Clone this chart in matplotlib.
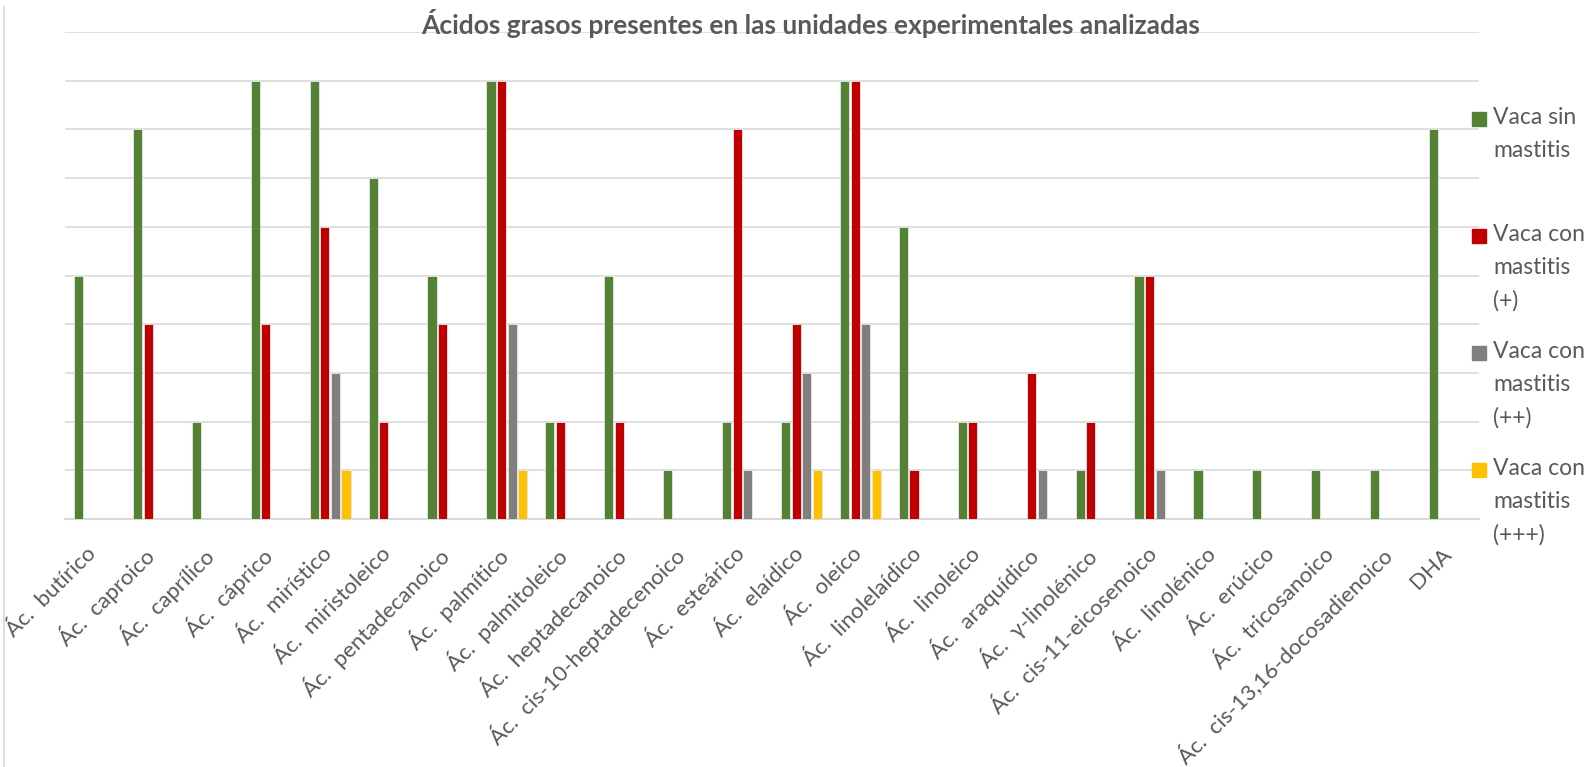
import numpy as np
import matplotlib.pyplot as plt
import matplotlib.transforms as mtransforms
from matplotlib.patches import Rectangle
from matplotlib.lines import Line2D

plt.rcParams['font.family'] = ['Lato', 'DejaVu Sans']

acidos = ['Ác.  butírico', 'Ác.  caproico', 'Ác.  caprílico', 'Ác.  cáprico',
          'Ác.  mirístico', 'Ác.  miristoleico', 'Ác.  pentadecanoico',
          'Ác.  palmítico', 'Ác.  palmitoleico', 'Ác.  heptadecanoico',
          'Ác.  cis-10-heptadecenoico', 'Ác.  esteárico', 'Ác.  elaídico',
          'Ác.  oleico', 'Ác.  linolelaídico', 'Ác.  linoleico',
          'Ác.  araquídico', 'Ác.  γ-linolénico', 'Ác.  cis-11-eicosenoico',
          'Ác.  linolénico', 'Ác.  erúcico', 'Ác.  tricosanoico',
          'Ác.  cis-13,16-docosadienoico', 'DHA']

sin_mastitis = [5, 8, 2, 9, 9, 7, 5, 9, 2, 5, 1, 2, 2, 9, 6, 2, 0, 1, 5, 1, 1, 1, 1, 8]
mastitis_1   = [0, 4, 0, 4, 6, 2, 4, 9, 2, 2, 0, 8, 4, 9, 1, 2, 3, 2, 5, 0, 0, 0, 0, 0]
mastitis_2   = [0, 0, 0, 0, 3, 0, 0, 4, 0, 0, 0, 1, 3, 4, 0, 0, 1, 0, 1, 0, 0, 0, 0, 0]
mastitis_3   = [0, 0, 0, 0, 1, 0, 0, 1, 0, 0, 0, 0, 1, 1, 0, 0, 0, 0, 0, 0, 0, 0, 0, 0]

series = [sin_mastitis, mastitis_1, mastitis_2, mastitis_3]
nombres = ['Vaca sin\nmastitis', 'Vaca con\nmastitis\n(+)',
           'Vaca con\nmastitis\n(++)', 'Vaca con\nmastitis\n(+++)']
colores = ['#548235', '#C00000', '#7F7F7F', '#FFC000']

W, H = 1588, 767
fig = plt.figure(figsize=(W / 100, H / 100), dpi=100)
ax = fig.add_axes([65 / W, 1 - 519 / H, (1479 - 65) / W, (519 - 32) / H])

x = np.arange(len(acidos))
paso = 0.18
ancho = 0.155
for i, (vals, col) in enumerate(zip(series, colores)):
    ax.bar(x + (i - 1.5) * paso, vals, width=ancho, color=col,
           edgecolor='#e8e8e8', linewidth=0.6, zorder=3)

ax.set_xlim(-0.5, len(acidos) - 0.5)
ax.set_ylim(0, 10)
ax.set_yticks(np.arange(0, 11))
ax.yaxis.grid(True, color='#d9d9d9', linewidth=1.2, zorder=0)
ax.tick_params(axis='y', left=False, labelleft=False)
ax.tick_params(axis='x', length=0, pad=18)
for s in ['top', 'right', 'left']:
    ax.spines[s].set_visible(False)
ax.spines['bottom'].set_color('#d9d9d9')
ax.spines['bottom'].set_linewidth(1.5)

ax.set_xticks(x)
ax.set_xticklabels(acidos, rotation=45, ha='right', va='top',
                   fontsize=16, color='#595959')
desplazar = mtransforms.ScaledTranslation(6 / 100, 0, fig.dpi_scale_trans)
for lab in ax.get_xticklabels():
    lab.set_transform(lab.get_transform() + desplazar)

fig.text(811 / W, 1 - 23 / H,
         'Ácidos grasos presentes en las unidades experimentales analizadas',
         ha='center', va='center', fontsize=19, fontweight='bold',
         color='#595959')

# legend drawn by hand so the squares sit beside the first text line
tops = [112, 229, 346, 463]
for nombre, col, t in zip(nombres, colores, tops):
    fig.patches.append(Rectangle((1472 / W, 1 - (t + 14) / H), 14 / W, 14 / H,
                                 transform=fig.transFigure, color=col))
    fig.text(1493 / W, 1 - (t - 5) / H, nombre, ha='left', va='top',
             fontsize=16.5, color='#595959', linespacing=1.7)

# thin frame line on the left edge
fig.add_artist(Line2D([4 / W, 4 / W], [0, 1 - 7 / H], color='#d9d9d9',
                      linewidth=1.2, transform=fig.transFigure))

fig.savefig('out.png', dpi=100, facecolor='white')
